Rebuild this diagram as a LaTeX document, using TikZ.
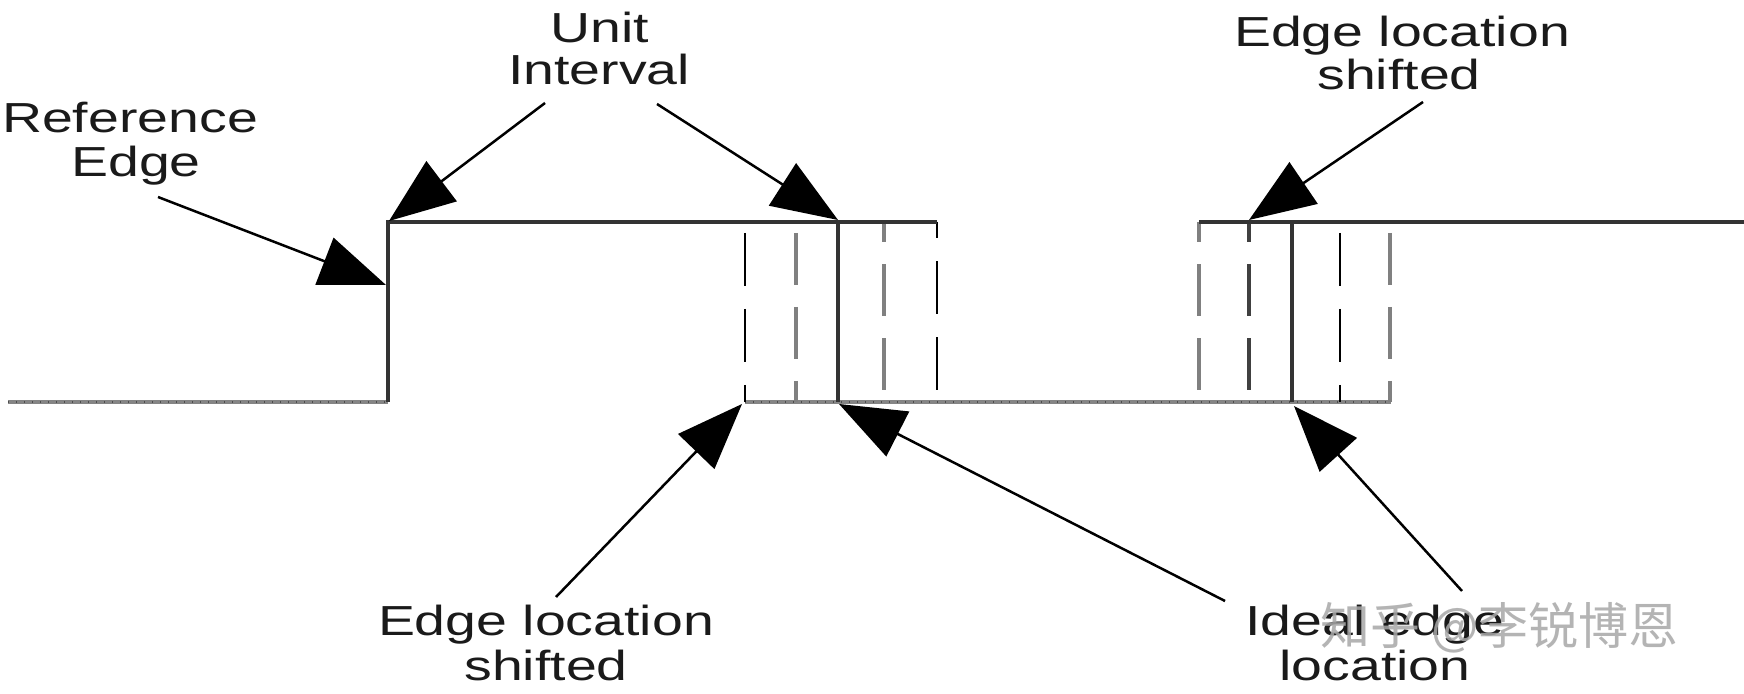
\documentclass[tikz,border=0pt]{standalone}
\usepackage{fontspec}
\setmainfont{Liberation Sans}
\newfontfamily\cjkfont{Noto Sans CJK SC}
\usepackage{graphicx}
\usetikzlibrary{arrows.meta}
\definecolor{wline}{HTML}{333333}
\definecolor{gdash}{HTML}{808080}
\definecolor{lowline}{HTML}{858585}
\definecolor{txt}{HTML}{1a1a1a}
\definecolor{wmark}{HTML}{a8a8a8}
\newcommand\sx[1]{\scalebox{1.32}[1]{#1}}
\begin{document}
\begin{tikzpicture}[x=0.5pt,y=-0.5pt,
  lbl/.style={font=\fontsize{21pt}{21pt}\selectfont, text=txt, inner sep=0pt, anchor=base},
  wave/.style={draw=wline, line width=1.7pt},
  low/.style={draw=lowline, line width=2.2pt},
  lowdots/.style={draw=black!70, line width=0.6pt, dash pattern=on 0.6pt off 3.4pt},
  bdash/.style={draw=black, line width=1.3pt, dash pattern=on 26.5pt off 11.5pt},
  gdashs/.style={draw=gdash, line width=1.9pt, dash pattern=on 26pt off 11pt},
  ptr/.style={draw=black, line width=1.25pt, -{Triangle[length=33pt,width=25pt]}},
]
\useasboundingbox[fill=white] (0,0) rectangle (1744,694);

% labels
\node[lbl] (ref1) at (130,133) {\sx{Reference}};
\node[lbl] (ref2) at (136,177) {\sx{Edge}};
\node[lbl] (ui1) at (600,43) {\sx{Unit}};
\node[lbl] (ui2) at (599,85) {\sx{Interval}};
\node[lbl] (els1) at (1402,47) {\sx{Edge location}};
\node[lbl] (els2) at (1399,90) {\sx{shifted}};
\node[lbl] (elb1) at (546,635) {\sx{Edge location}};
\node[lbl] (elb2) at (546,680) {\sx{shifted}};
\node[lbl] (iel1) at (1375,635) {\sx{Ideal edge}};
\node[lbl] (iel2) at (1375,680) {\sx{location}};

% waveform corners
\coordinate (a0) at (8,402);
\coordinate (r0) at (388,402);
\coordinate (r1) at (388,222);
\coordinate (e1t) at (838,222);
\coordinate (e1b) at (838,402);
\coordinate (t1end) at (937,222);
\coordinate (b1start) at (745,402);
\coordinate (b1end) at (1391,402);
\coordinate (t2start) at (1199,222);
\coordinate (t2end) at (1744,222);
\coordinate (e2t) at (1292,222);
\coordinate (e2b) at (1292,402);

% low levels
\draw[low] (a0) -- (r0);
\draw[low] (b1start) -- (b1end);
\draw[lowdots] (a0) -- (r0);
\draw[lowdots] (b1start) -- (b1end);

% dashed shifted edges, group 1
\draw[bdash] (745,233) -- (745,402);
\draw[gdashs] (796,233) -- (796,402);
\draw[gdashs] (884,390) -- (884,222);
\draw[bdash] (937,390) -- (937,222);
% group 2
\draw[gdashs] (1199,390) -- (1199,222);
\draw[draw=black!75, line width=1.6pt, dash pattern=on 26pt off 11pt] (1249,390) -- (1249,222);
\draw[bdash] (1340,233) -- (1340,402);
\draw[gdashs] (1390,233) -- (1390,402);

% solid waveform
\draw[wave] (r0) -- (r1) -- (t1end);
\draw[wave] (e1t) -- (e1b);
\draw[wave] (t2start) -- (t2end);
\draw[wave] (e2t) -- (e2b);

% arrow ends
\coordinate (p1s) at (158,197);  \coordinate (p1e) at (386,285);
\coordinate (p2s) at (545,103);  \coordinate (p2e) at (389,221);
\coordinate (p3s) at (657,104);  \coordinate (p3e) at (838,220);
\coordinate (p4s) at (1423,102); \coordinate (p4e) at (1249,220);
\coordinate (p5s) at (556,597);  \coordinate (p5e) at (742,404);
\coordinate (p6s) at (1225,601); \coordinate (p6e) at (839,404);
\coordinate (p7s) at (1462,591); \coordinate (p7e) at (1294,406);

\draw[ptr] (p1s) -- (p1e);
\draw[ptr] (p2s) -- (p2e);
\draw[ptr] (p3s) -- (p3e);
\draw[ptr] (p4s) -- (p4e);
\draw[ptr] (p5s) -- (p5e);
\draw[ptr] (p6s) -- (p6e);
\draw[ptr] (p7s) -- (p7e);

% watermark
\node[anchor=base west, inner sep=0pt, font=\cjkfont\fontsize{25pt}{25pt}\selectfont, text=wmark, opacity=0.85] (wm) at (1320,644) {知乎 @李锐博恩};
\end{tikzpicture}
\end{document}
